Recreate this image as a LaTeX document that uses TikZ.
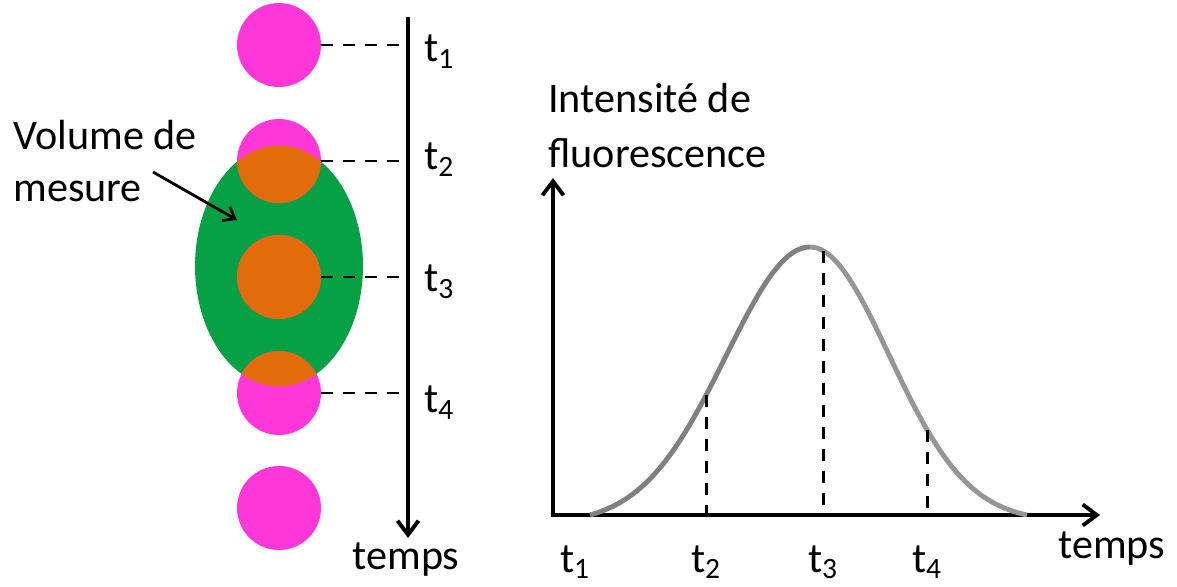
\documentclass[tikz,border=0pt]{standalone}
\usepackage{fontspec}
\setmainfont{Carlito}
\usetikzlibrary{arrows.meta, positioning, shapes.geometric}
\definecolor{rose}{RGB}{255,55,217}
\definecolor{vert}{RGB}{5,161,68}
\definecolor{orangemix}{RGB}{227,108,10}
\definecolor{courbegris}{RGB}{128,128,128}
\definecolor{courbeclair}{RGB}{150,150,150}

\begin{document}
\begin{tikzpicture}[
  x=0.02cm, y=-0.02cm,
  font=\fontsize{24}{31}\selectfont,
  dot/.style ={circle, fill=rose, minimum size=1.68cm, inner sep=0pt},
  zone/.style={ellipse, fill=vert, minimum width=3.36cm, minimum height=4.82cm, inner sep=0pt},
  axe/.style ={line width=2.2pt, arrows={-Straight Barb[length=8pt, width=12pt]}},
  fleche/.style={line width=1.6pt, arrows={-Straight Barb[length=6pt, width=9pt]}},
  guide/.style={line width=1.7pt, dash pattern=on 0.24cm off 0.2cm},
  courbe/.style={line width=2.8pt, draw=courbegris},
  lab/.style ={inner sep=0pt, anchor=base west},
  tlab/.style={inner sep=0pt, anchor=base}
]
\useasboundingbox (0,0) rectangle (1177,587);

% Gauche — passage de la particule
\node[zone] (vol) at (279,266) {};
\foreach \i/\y in {1/45, 2/161, 3/277, 4/393, 5/508}
  \node[dot] (p\i) at (279,\y) {};
\begin{scope}
  \clip (vol.center) ellipse [x radius=1.68cm, y radius=2.41cm];
  \foreach \i in {2,3,4}
    \fill[orangemix] (p\i.center) circle [radius=0.84cm];
\end{scope}

% Axe du temps
\coordinate (h)  at (408,17);
\coordinate (hb) at (408,538);
\draw[axe] (h) -- (hb);
\node[tlab] (temps1) at (406,569) {temps};

\foreach \i in {1,...,4}
  \draw[guide] (p\i.east) -- (p\i.east -| hb);

\node[lab] (t1) at (424,62)  {t\textsubscript{1}};
\node[lab] (t2) at (424,170) {t\textsubscript{2}};
\node[lab] (t3) at (424,292) {t\textsubscript{3}};
\node[lab] (t4) at (424,413) {t\textsubscript{4}};

% Volume de mesure
\node[lab] (vol1) at (13,150) {Volume de};
\node[lab] (vol2) at (13,202) {mesure};
\coordinate (vqueue) at (153,172);
\coordinate (vtip)   at (237,220);
\draw[fleche] (vqueue) -- (vtip);

% Droite — intensité
\coordinate (o)  at (553,515);
\coordinate (yt) at (553,178);
\coordinate (xt) at (1100,515);
\draw[axe, arrows={Straight Barb[length=8pt, width=12pt]-Straight Barb[length=8pt, width=12pt]}]
  (yt) -- (o) -- (xt);

\node[lab] (ylab1) at (548,113) {Intensité de};
\node[lab] (ylab2) at (548,168) {fluorescence};
\node[lab] (temps2) at (1058,559) {temps};

\draw[courbe] plot[domain=590:810, samples=60, smooth]
  (\x, {515-268*(exp(-((\x-810)/84)^2/2)-0.0324)/0.9676});
\draw[courbe, draw=courbeclair] plot[domain=810:1027, samples=60, smooth]
  (\x, {515-268*(exp(-((\x-810)/79)^2/2)-0.023)/0.977});

\coordinate (q2) at (706, {515-268*(exp(-((706-810)/84)^2/2)-0.0324)/0.9676});
\coordinate (q3) at (823, {515-268*(exp(-((823-810)/79)^2/2)-0.023)/0.977});
\coordinate (q4) at (927, {515-268*(exp(-((927-810)/79)^2/2)-0.023)/0.977});
\foreach \q in {q2,q3,q4}
  \draw[guide] (\q) -- (\q |- o);

\node[tlab] (b1) at (575,572) {t\textsubscript{1}};
\node[tlab] (b2) at (706,572) {t\textsubscript{2}};
\node[tlab] (b3) at (823,572) {t\textsubscript{3}};
\node[tlab] (b4) at (927,572) {t\textsubscript{4}};

\end{tikzpicture}
\end{document}
